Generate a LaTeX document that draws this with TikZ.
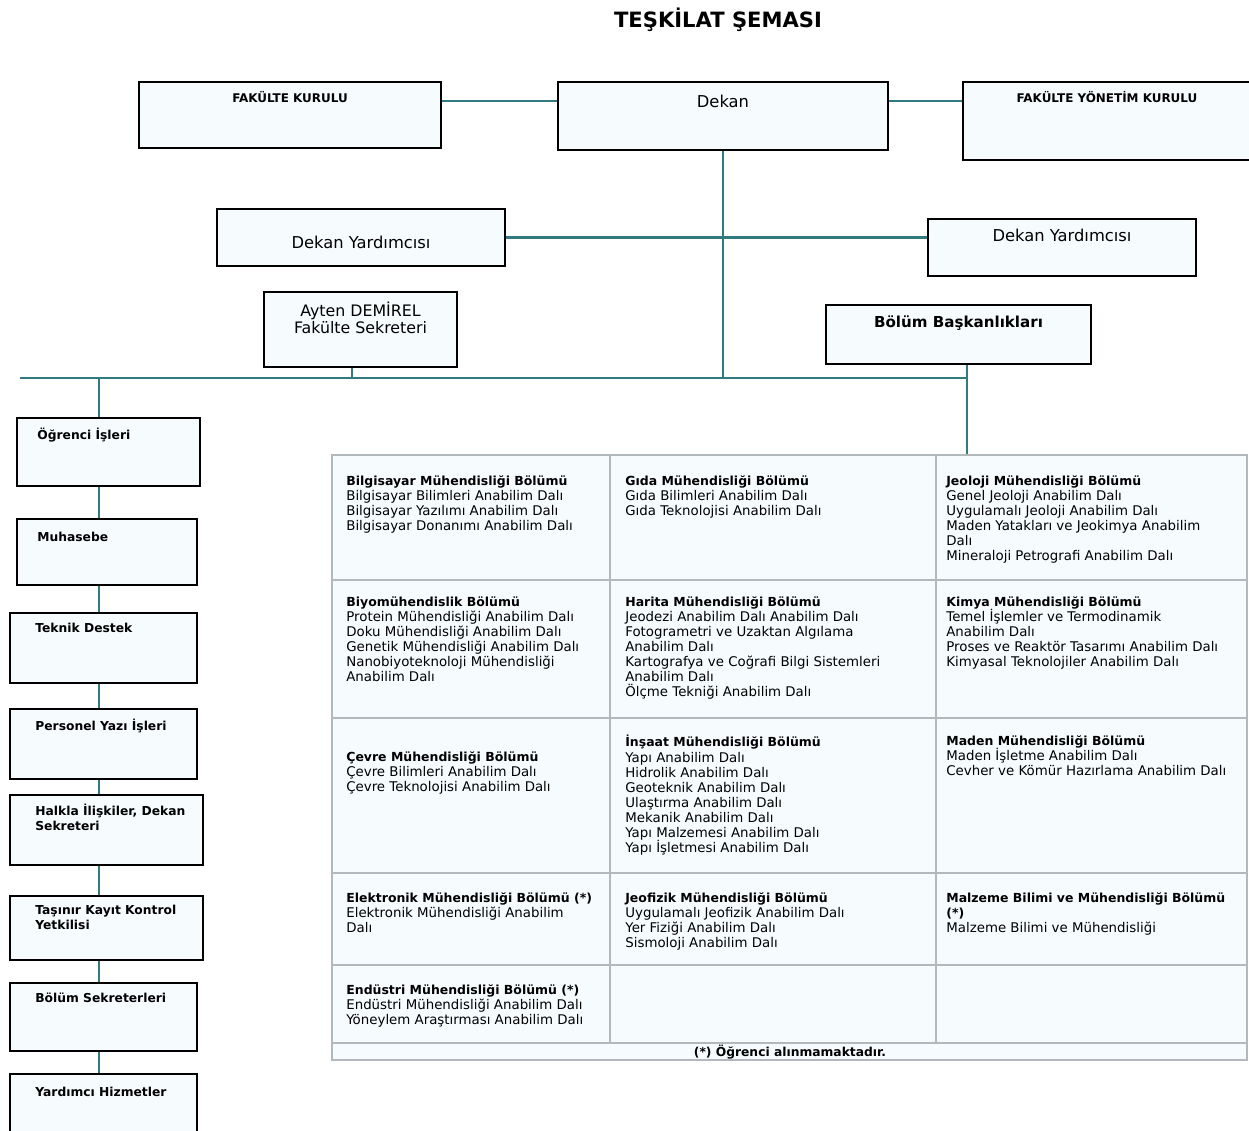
\documentclass[tikz,border=0pt]{standalone}
\usepackage{fontspec}
\setmainfont{DejaVu Sans}
\usetikzlibrary{positioning, calc}
\definecolor{linkteal}{RGB}{48, 122, 128}
\definecolor{boxfill}{RGB}{246, 251, 254}
\definecolor{gridgray}{RGB}{178, 184, 188}
\newcommand{\deptname}[1]{{\fontsize{7.1}{8.6}\selectfont\bfseries #1}}
\tikzset{
    orgbox/.style={draw=black, line width=1.6pt, fill=boxfill, rectangle, inner sep=0pt},
    boxtext/.style={font=\fontsize{9.3}{10.4}\selectfont, align=center, inner sep=0pt},
    captext/.style={font=\fontsize{6.8}{8}\selectfont\bfseries, inner sep=0pt},
    unittext/.style={font=\fontsize{7}{8.6}\selectfont\bfseries, align=left, anchor=north west, inner sep=0pt},
    celltext/.style={font=\fontsize{7.6}{8.6}\selectfont, align=left, anchor=north west, inner sep=0pt},
    gridline/.style={draw=gridgray, line width=1.2pt},
    link/.style={draw=linkteal, line width=1.2pt},
}

\begin{document}
\begin{tikzpicture}[x=0.02cm, y=-0.02cm]
    \useasboundingbox (0,0) rectangle (1249,1131);
    \node[font=\fontsize{12}{14}\selectfont\bfseries] (title) at (718,20) {TEŞKİLAT ŞEMASI};

    % Top row
    \node[orgbox, minimum width=6.04cm, minimum height=1.32cm] (fk) at (290,115) {};
    \node[captext] (fk-t) at (290,97) {FAKÜLTE KURULU};
    \node[orgbox, minimum width=6.6cm, minimum height=1.36cm] (dekan) at (723,116) {};
    \node[boxtext] (dekan-t) at (723,101) {Dekan};
    \node[orgbox, minimum width=5.8cm, minimum height=1.56cm] (fyk) at (1108,121) {};
    \node[captext] (fyk-t) at (1107,97) {FAKÜLTE YÖNETİM KURULU};

    % Deputies
    \node[orgbox, minimum width=5.76cm, minimum height=1.14cm] (dyl) at (361,237.5) {};
    \node[boxtext] (dyl-t) at (361,242) {Dekan Yardımcısı};
    \node[orgbox, minimum width=5.36cm, minimum height=1.14cm] (dyr) at (1062,247.5) {};
    \node[boxtext] (dyr-t) at (1062,235) {Dekan Yardımcısı};

    % Secretary and departments
    \node[orgbox, minimum width=3.86cm, minimum height=1.5cm] (fs) at (360.5,329.5) {};
    \node[boxtext, font=\fontsize{9}{9.6}\selectfont] (fs-t) at (360.5,318) {Ayten DEMİREL\\Fakülte Sekreteri};
    \node[orgbox, minimum width=5.3cm, minimum height=1.18cm] (bb) at (958.5,334.5) {};
    \node[boxtext, font=\fontsize{8.6}{10}\selectfont\bfseries] (bb-t) at (958.5,323) {Bölüm Başkanlıkları};

    % Administrative units
    \node[orgbox, minimum width=3.66cm, minimum height=1.36cm] (ogr) at (108.5,452) {};
    \node[orgbox, minimum width=3.6cm, minimum height=1.32cm] (muh) at (107,552) {};
    \node[orgbox, minimum width=3.74cm, minimum height=1.4cm] (tek) at (103.5,648) {};
    \node[orgbox, minimum width=3.74cm, minimum height=1.4cm] (per) at (103.5,744) {};
    \node[orgbox, minimum width=3.86cm, minimum height=1.4cm] (halk) at (106.5,830) {};
    \node[orgbox, minimum width=3.86cm, minimum height=1.28cm] (tas) at (106.5,928) {};
    \node[orgbox, minimum width=3.74cm, minimum height=1.36cm] (bsek) at (103.5,1017) {};
    \node[orgbox, minimum width=3.74cm, minimum height=1.4cm] (yard) at (103.5,1109) {};
    \node[unittext] (ogr-t) at (37,428) {Öğrenci İşleri};
    \node[unittext] (muh-t) at (37,532) {Muhasebe};
    \node[unittext] (tek-t) at (35,623) {Teknik Destek};
    \node[unittext] (per-t) at (35,719) {Personel Yazı İşleri};
    \node[unittext] (halk-t) at (35,804) {Halkla İlişkiler, Dekan\\Sekreteri};
    \node[unittext] (tas-t) at (35,905) {Taşınır Kayıt Kontrol\\Yetkilisi};
    \node[unittext] (bsek-t) at (35,993) {Bölüm Sekreterleri};
    \node[unittext] (yard-t) at (35,1087) {Yardımcı Hizmetler};

    % Department table
    \node[draw=gridgray, line width=1.2pt, fill=boxfill, minimum width=18.3cm, minimum height=12.1cm, inner sep=0pt] (grid) at (789.5,757.5) {};
    \foreach \ry in {580, 718, 873, 965, 1043}
        \draw[gridline] (grid.west |- 0,\ry) -- (grid.east |- 0,\ry);
    \foreach \cx in {610, 936}
        \draw[gridline] (\cx,0 |- grid.north) -- (\cx,1043);

    \node[celltext] (c11) at (346,475) {\deptname{Bilgisayar Mühendisliği Bölümü}\\Bilgisayar Bilimleri Anabilim Dalı\\Bilgisayar Yazılımı Anabilim Dalı\\Bilgisayar Donanımı Anabilim Dalı};
    \node[celltext] (c12) at (625,475) {\deptname{Gıda Mühendisliği Bölümü}\\Gıda Bilimleri Anabilim Dalı\\Gıda Teknolojisi Anabilim Dalı};
    \node[celltext] (c13) at (946,475) {\deptname{Jeoloji Mühendisliği Bölümü}\\Genel Jeoloji Anabilim Dalı\\Uygulamalı Jeoloji Anabilim Dalı\\Maden Yatakları ve Jeokimya Anabilim\\Dalı\\Mineraloji Petrografi Anabilim Dalı};
    \node[celltext] (c21) at (346,596) {\deptname{Biyomühendislik Bölümü}\\Protein Mühendisliği Anabilim Dalı\\Doku Mühendisliği Anabilim Dalı\\Genetik Mühendisliği Anabilim Dalı\\Nanobiyoteknoloji Mühendisliği\\Anabilim Dalı};
    \node[celltext] (c22) at (625,596) {\deptname{Harita Mühendisliği Bölümü}\\Jeodezi Anabilim Dalı Anabilim Dalı\\Fotogrametri ve Uzaktan Algılama\\Anabilim Dalı\\Kartografya ve Coğrafi Bilgi Sistemleri\\Anabilim Dalı\\Ölçme Tekniği Anabilim Dalı};
    \node[celltext] (c23) at (946,596) {\deptname{Kimya Mühendisliği Bölümü}\\Temel İşlemler ve Termodinamik\\Anabilim Dalı\\Proses ve Reaktör Tasarımı Anabilim Dalı\\Kimyasal Teknolojiler Anabilim Dalı};
    \node[celltext] (c31) at (346,751) {\deptname{Çevre Mühendisliği Bölümü}\\Çevre Bilimleri Anabilim Dalı\\Çevre Teknolojisi Anabilim Dalı};
    \node[celltext] (c32) at (625,735) {\deptname{İnşaat Mühendisliği Bölümü}\\Yapı Anabilim Dalı\\Hidrolik Anabilim Dalı\\Geoteknik Anabilim Dalı\\Ulaştırma Anabilim Dalı\\Mekanik Anabilim Dalı\\Yapı Malzemesi Anabilim Dalı\\Yapı İşletmesi Anabilim Dalı};
    \node[celltext] (c33) at (946,735) {\deptname{Maden Mühendisliği Bölümü}\\Maden İşletme Anabilim Dalı\\Cevher ve Kömür Hazırlama Anabilim Dalı};
    \node[celltext] (c41) at (346,892) {\deptname{Elektronik Mühendisliği Bölümü (*)}\\Elektronik Mühendisliği Anabilim\\Dalı};
    \node[celltext] (c42) at (625,892) {\deptname{Jeofizik Mühendisliği Bölümü}\\Uygulamalı Jeofizik Anabilim Dalı\\Yer Fiziği Anabilim Dalı\\Sismoloji Anabilim Dalı};
    \node[celltext] (c43) at (946,892) {\deptname{Malzeme Bilimi ve Mühendisliği Bölümü}\\\deptname{(*)}\\Malzeme Bilimi ve Mühendisliği};
    \node[celltext] (c51) at (346,984) {\deptname{Endüstri Mühendisliği Bölümü (*)}\\Endüstri Mühendisliği Anabilim Dalı\\Yöneylem Araştırması Anabilim Dalı};
    \node[font=\fontsize{7}{8}\selectfont\bfseries, inner sep=0pt] (note) at (790,1052) {(*) Öğrenci alınmamaktadır.};

    % Connectors
    \coordinate (busL) at (20,378);
    \coordinate (busR) at (967,378);
    \coordinate (colx) at (99,0);
    \draw[link] (fk.east |- dekan-t) -- (dekan.west |- dekan-t);
    \draw[link] (dekan.east |- dekan-t) -- (fyk.west |- dekan-t);
    \draw[link] (dekan.south) -- (dekan.south |- busR);
    \draw[link] (dyl.east) -- (dyl.east -| dyr.west);
    \draw[link] (busL) -- (busR);
    \draw[link] (fs.south -| 352,0) -- (busL -| 352,0);
    \draw[link] (bb.south -| busR) -- (grid.north -| busR);
    \draw[link] (busL -| colx) -- (ogr.north -| colx);
    \foreach \upper/\lower in {ogr/muh, muh/tek, tek/per, per/halk, halk/tas, tas/bsek, bsek/yard}
        \draw[link] (\upper.south -| colx) -- (\lower.north -| colx);
\end{tikzpicture}
\end{document}
